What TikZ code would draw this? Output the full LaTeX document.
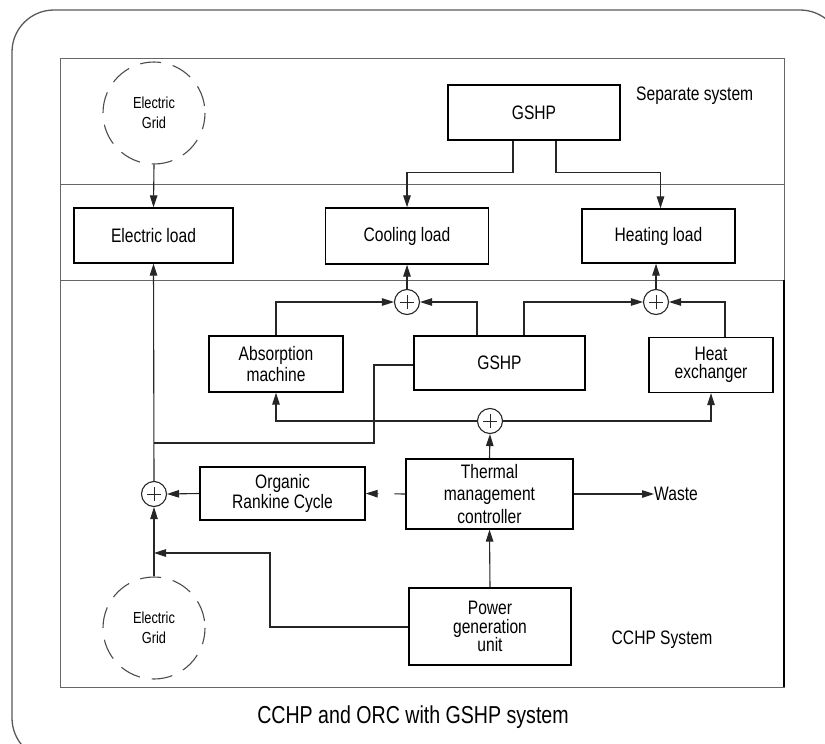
\documentclass[tikz,border=0pt]{standalone}
\usepackage{fontspec}
\setmainfont{Liberation Sans}[FakeStretch=0.8]
\usetikzlibrary{arrows.meta,calc}
\begin{document}
\begin{tikzpicture}[x=1pt,y=-1pt,
  box/.style={draw=black, line width=1.3pt, inner sep=0pt, align=center, font=\fontsize{19.5}{21}\selectfont},
  ln/.style={draw=black!85, line width=1.1pt},
  arr/.style={ln, -{Triangle[length=12pt,width=7.5pt]}},
  frame/.style={draw=black!60, line width=1pt},
  sumn/.style={circle, draw=black!85, line width=1.1pt, minimum size=25pt, inner sep=0pt,
    path picture={\draw[line width=0.9pt] ([xshift=-7pt]path picture bounding box.center) -- ([xshift=7pt]path picture bounding box.center)
      ([yshift=-7pt]path picture bounding box.center) -- ([yshift=7pt]path picture bounding box.center);}},
  gridn/.style={circle, draw=black!70, line width=1.1pt, dash pattern=on 21pt off 12pt, dash phase=26pt, minimum size=102pt, inner sep=0pt, align=center, font=\fontsize{16}{20}\selectfont},
  lbl/.style={inner sep=0pt, font=\fontsize{19.5}{21}\selectfont}
]
\useasboundingbox (0,0) rectangle (825,744);
% outer rounded frame
\draw[draw=black!65, line width=1.3pt, rounded corners=42pt] (12,10) rectangle (842,760);
% inner frame
\draw[frame] (60,58) rectangle (784,687);
\draw[frame] (60,184) -- (784,184);
\draw[frame] (60,280) -- (784,280);
\draw[draw=black, line width=1.3pt] (784,280) -- (784,687);

% nodes
\node[gridn] (grid1) at (154,113) {Electric\\Grid};
\node[gridn] (grid2) at (154,628) {Electric\\Grid};
\node[box, minimum width=172pt, minimum height=55pt] (gshp1) at (534,112.5) {GSHP};
\node[box, minimum width=159pt, minimum height=55pt] (eload) at (153.5,235.5) {Electric load};
\node[box, minimum width=163pt, minimum height=56pt] (cload) at (407,236) {Cooling load};
\node[box, minimum width=153pt, minimum height=54pt] (hload) at (658.5,236) {Heating load};
\node[box, minimum width=134pt, minimum height=56pt, font=\fontsize{19.5}{21}\selectfont] (absm) at (276,364) {Absorption\\machine};
\node[box, minimum width=171pt, minimum height=54pt] (gshp2) at (499.5,363) {GSHP};
\node[box, minimum width=124pt, minimum height=55pt, font=\fontsize{19.5}{18}\selectfont] (hx) at (711,365) {Heat\\exchanger};
\node[box, minimum width=167pt, minimum height=70pt, font=\fontsize{19.5}{22.5}\selectfont] (tmc) at (489.5,494) {Thermal\\management\\controller};
\node[box, minimum width=165pt, minimum height=53pt, font=\fontsize{19.5}{19.5}\selectfont] (orc) at (282.5,493.5) {Organic\\Rankine Cycle};
\node[box, minimum width=162pt, minimum height=77pt, font=\fontsize{19.5}{18.5}\selectfont] (pgu) at (490,626.5) {Power\\generation\\unit};
\node[sumn] (csum) at (407,302) {};
\node[sumn] (hsum) at (656,302) {};
\node[sumn] (msum) at (490,421) {};
\node[sumn] (esum) at (154,494) {};
\node[lbl, anchor=west] (waste) at (654,494) {Waste};
\node[lbl, anchor=west] (sep) at (636,96) {Separate system};
\node[lbl] (cchp) at (662,640) {CCHP System};
\node[inner sep=0pt, font=\fontsize{24.5}{27}\selectfont] (title) at (413,717) {CCHP and ORC with GSHP system};
\coordinate (j1) at (154,443);
\coordinate (j2) at (154,553);
\coordinate (k1) at (374,443);
\coordinate (k2) at (270,553);

% connectors
\draw[arr] (grid1.south) -- (eload.north);
\draw[arr] ([xshift=-21pt]gshp1.south) -- ++(0,32) -| (cload.north);
\draw[arr] ([xshift=22pt]gshp1.south) -- ++(0,32) -| ([xshift=2pt]hload.north);
\draw[arr] (csum.north) -- (cload.south);
\draw[arr] (hsum.north) -- (hsum.north |- hload.south);
\draw[arr] (absm.north) |- (csum.west);
\draw[arr] ([xshift=-22.5pt]gshp2.north) |- (csum.east);
\draw[arr] ([xshift=24.5pt]gshp2.north) |- (hsum.west);
\draw[arr] ([xshift=14pt]hx.north) |- (hsum.east);
\draw[arr] (msum.west) -| (absm.south);
\draw[arr] (msum.east) -| (hx.south);
\draw[ln] ([yshift=-2pt]gshp2.west) -| (k1) -- (j1);
\draw[arr] (tmc.north) -- (msum.south);
\draw[arr] (tmc.east) -- (waste.west);
\draw[arr, dash pattern=on 11pt off 16pt on 40pt] (tmc.west) -- (orc.east);
\draw[arr] (orc.west) -- (esum.east);
\draw[arr] (esum.north) -- (eload.south);
\draw[arr] (grid2.north) -- (esum.south);
\draw[arr] ([yshift=-0.5pt]pgu.west) -| (k2) -- (j2);
\draw[arr] (pgu.north) -- (tmc.south);
\end{tikzpicture}
\end{document}
